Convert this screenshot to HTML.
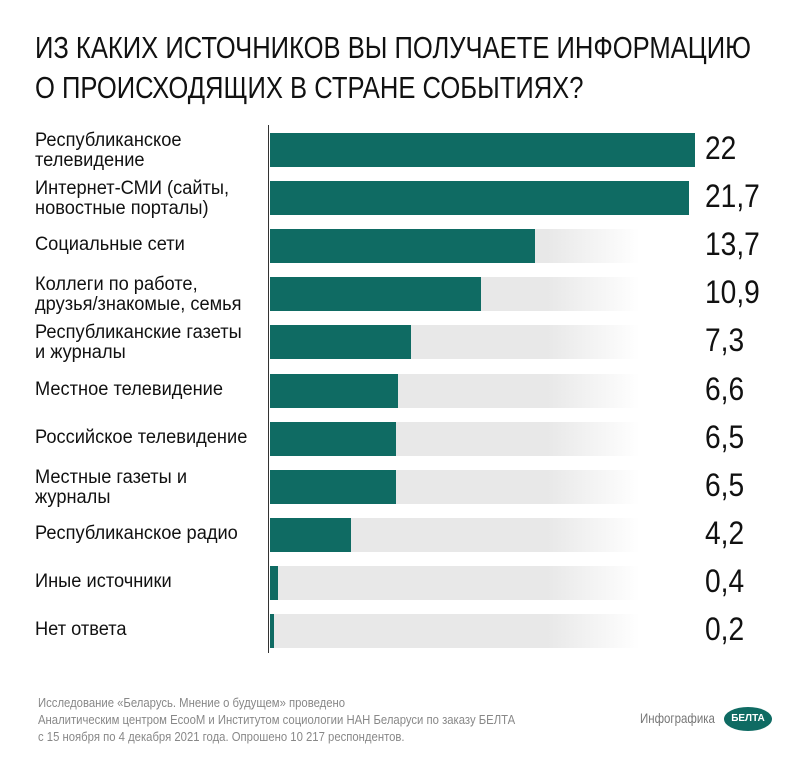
<!DOCTYPE html><html><head><meta charset="utf-8"><style>
body{margin:0;width:800px;height:758px;background:#fff;font-family:"Liberation Sans",sans-serif;position:relative;overflow:hidden;color:#111}
.n{display:inline-block;transform:scaleX(.82);transform-origin:left top;white-space:nowrap}
.t{position:absolute;left:35px;font-size:31px;line-height:40px}
.l{position:absolute;left:35px;font-size:19px;line-height:20px}
.l .n{transform:scaleX(.96)}
.v{position:absolute;left:705px;font-size:32px}
.v .n{transform:scaleX(.88)}
.g{position:absolute;left:270px;width:370px;height:34px;background:linear-gradient(90deg,#e8e8e8 0,#e8e8e8 75%,#fff 100%)}
.b{position:absolute;left:270px;height:34px;background:#0f6b63}
.f{position:absolute;left:38px;font-size:13px;color:#888;line-height:17px}
.f .n{transform:scaleX(.87)}
</style></head><body>
<div class="t" style="top:28px"><span class="n" style="transform:scaleX(.825)">ИЗ КАКИХ ИСТОЧНИКОВ ВЫ ПОЛУЧАЕТЕ ИНФОРМАЦИЮ</span></div>
<div class="t" style="top:68px"><span class="n" style="transform:scaleX(.825)">О ПРОИСХОДЯЩИХ В СТРАНЕ СОБЫТИЯХ?</span></div>
<div style="position:absolute;left:268px;top:125px;width:1px;height:528px;background:#333"></div>
<div id="c"></div>
<script>
const d=[["Республиканское<br>телевидение",22,"22"],["Интернет-СМИ (сайты,<br>новостные порталы)",21.7,"21,7"],["Социальные сети",13.7,"13,7"],["Коллеги по работе,<br>друзья/знакомые, семья",10.9,"10,9"],["Республиканские газеты<br>и журналы",7.3,"7,3"],["Местное телевидение",6.6,"6,6"],["Российское телевидение",6.5,"6,5"],["Местные газеты и<br>журналы",6.5,"6,5"],["Республиканское радио",4.2,"4,2"],["Иные источники",0.4,"0,4"],["Нет ответа",0.2,"0,2"]];
let h="";d.forEach((r,i)=>{const y=133+i*48.1;const two=r[0].includes("<br>");
h+=`<div class="g" style="top:${y}px"></div><div class="b" style="top:${y}px;width:${r[1]*19.32}px"></div>`;
h+=`<div class="l" style="top:${two?y-2:y+6}px"><span class="n">${r[0]}</span></div>`;
h+=`<div class="v" style="top:${y-3}px"><span class="n">${r[2]}</span></div>`;});
document.getElementById("c").innerHTML=h;
</script>
<div class="f" style="top:694px"><span class="n">Исследование «Беларусь. Мнение о будущем» проведено<br>Аналитическим центром EcooM и Институтом социологии НАН Беларуси по заказу БЕЛТА<br>с 15 ноября по 4 декабря 2021 года. Опрошено 10 217 респондентов.</span></div>
<div style="position:absolute;left:640px;top:710px;font-size:14px;color:#777"><span class="n">Инфографика</span></div>
<div style="position:absolute;left:724px;top:707px;width:48px;height:24px;border-radius:50%;background:#0f6b63;color:#fff;font-size:10px;font-weight:bold;text-align:center;line-height:24px">БЕЛТА</div>
</body></html>
